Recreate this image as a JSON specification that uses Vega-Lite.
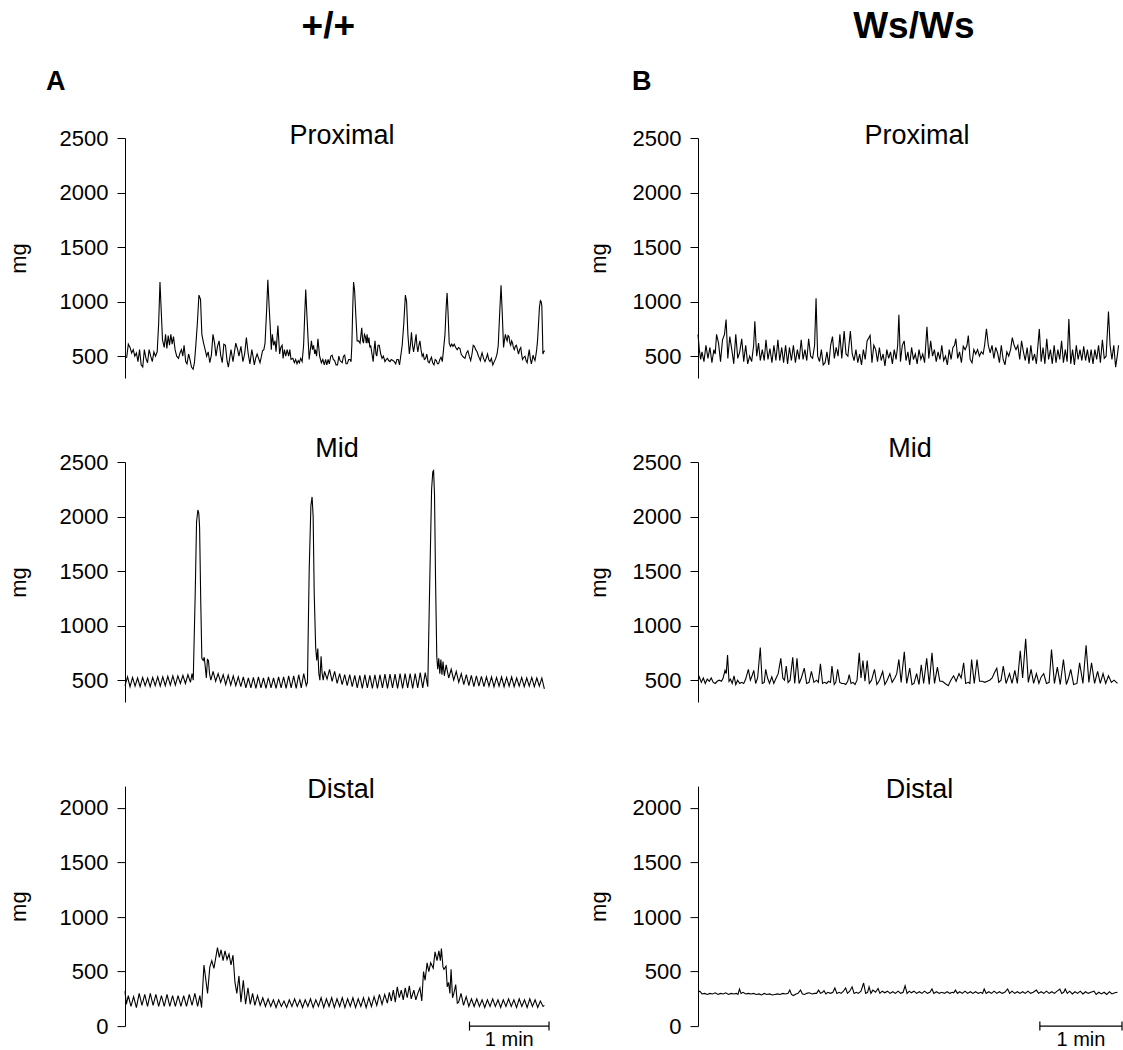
{
  "$schema": "https://vega.github.io/schema/vega-lite/v6.json",
  "padding": {"left": 7, "top": 7, "right": 0, "bottom": 0},
  "background": "white",
  "config": {
    "font": "Liberation Sans",
    "view": {"stroke": null},
    "title": {"font": "Liberation Sans", "fontSize": 27, "fontWeight": "normal", "color": "black", "anchor": "middle"},
    "axis": {"domainColor": "black", "tickColor": "black", "labelColor": "black", "titleColor": "black", "labelFont": "Liberation Sans", "titleFont": "Liberation Sans", "labelFontSize": 22, "titleFontSize": 22, "titleFontWeight": "normal", "tickSize": 8, "labelPadding": 9, "grid": false, "domainWidth": 1, "tickWidth": 1}
  },
  "datasets": {
    "A1": [{"t":0,"v":480},{"t":1.3,"v":490},{"t":2.5,"v":610},{"t":3.8,"v":580},{"t":5,"v":530},{"t":6.2,"v":560},{"t":7.4,"v":500},{"t":8.6,"v":530},{"t":9.8,"v":450},{"t":11,"v":560},{"t":12.2,"v":420},{"t":13.4,"v":400},{"t":14.6,"v":560},{"t":15.8,"v":480},{"t":17,"v":440},{"t":18.2,"v":560},{"t":19.4,"v":500},{"t":20.6,"v":450},{"t":21.8,"v":540},{"t":23,"v":500},{"t":24.3,"v":540},{"t":25.4,"v":800},{"t":26.4,"v":1180},{"t":27.4,"v":900},{"t":28.3,"v":650},{"t":29.6,"v":580},{"t":30.6,"v":700},{"t":31.6,"v":570},{"t":32.6,"v":690},{"t":33.6,"v":600},{"t":34.6,"v":700},{"t":35.6,"v":610},{"t":36.6,"v":680},{"t":37.8,"v":560},{"t":39,"v":500},{"t":40.4,"v":480},{"t":41.5,"v":530},{"t":42.6,"v":560},{"t":43.6,"v":500},{"t":44.6,"v":600},{"t":45.8,"v":450},{"t":46.8,"v":430},{"t":48,"v":520},{"t":49,"v":470},{"t":50.2,"v":400},{"t":51.4,"v":380},{"t":52.4,"v":440},{"t":53.4,"v":590},{"t":54.6,"v":800},{"t":55.8,"v":1060},{"t":57,"v":1020},{"t":58,"v":700},{"t":59.3,"v":620},{"t":60.5,"v":560},{"t":61.6,"v":500},{"t":62.8,"v":540},{"t":64,"v":440},{"t":65.2,"v":510},{"t":66.4,"v":700},{"t":67.6,"v":620},{"t":68.7,"v":500},{"t":69.8,"v":590},{"t":71,"v":640},{"t":72.2,"v":510},{"t":73.4,"v":440},{"t":74.6,"v":610},{"t":75.8,"v":600},{"t":77,"v":460},{"t":78,"v":400},{"t":79,"v":480},{"t":80,"v":560},{"t":81.5,"v":450},{"t":83.6,"v":620},{"t":85,"v":560},{"t":86,"v":500},{"t":87.5,"v":590},{"t":89,"v":450},{"t":90.3,"v":520},{"t":91.6,"v":670},{"t":93,"v":520},{"t":94.3,"v":430},{"t":95.7,"v":560},{"t":96.6,"v":500},{"t":97.6,"v":420},{"t":98.6,"v":480},{"t":99.7,"v":520},{"t":100.8,"v":480},{"t":101.9,"v":440},{"t":103,"v":500},{"t":103.8,"v":550},{"t":104.8,"v":560},{"t":105.7,"v":620},{"t":106.8,"v":900},{"t":107.8,"v":1200},{"t":108.8,"v":950},{"t":109.7,"v":750},{"t":110.4,"v":560},{"t":111.2,"v":700},{"t":112.2,"v":600},{"t":113.2,"v":640},{"t":114,"v":540},{"t":115.4,"v":780},{"t":116.7,"v":520},{"t":117.6,"v":580},{"t":118.6,"v":600},{"t":119.3,"v":480},{"t":120.3,"v":560},{"t":121.3,"v":500},{"t":122.4,"v":560},{"t":123.5,"v":500},{"t":124.4,"v":560},{"t":125.3,"v":470},{"t":126.7,"v":480},{"t":127.8,"v":440},{"t":128.8,"v":470},{"t":129.8,"v":430},{"t":130.7,"v":460},{"t":131.6,"v":440},{"t":132.6,"v":480},{"t":133.7,"v":450},{"t":134.8,"v":600},{"t":135.7,"v":900},{"t":136.4,"v":1110},{"t":137.2,"v":900},{"t":138,"v":700},{"t":139,"v":470},{"t":140.7,"v":640},{"t":141.5,"v":560},{"t":142.3,"v":600},{"t":143.2,"v":520},{"t":143.7,"v":560},{"t":144.6,"v":500},{"t":145.6,"v":660},{"t":146.9,"v":500},{"t":148.2,"v":440},{"t":149.3,"v":470},{"t":150.4,"v":420},{"t":151.4,"v":470},{"t":152.3,"v":420},{"t":153.3,"v":470},{"t":154.2,"v":430},{"t":155.3,"v":500},{"t":156.3,"v":510},{"t":157.2,"v":470},{"t":158.2,"v":460},{"t":159.3,"v":420},{"t":160.4,"v":420},{"t":161.4,"v":500},{"t":162.3,"v":460},{"t":163.1,"v":450},{"t":163.9,"v":440},{"t":164.9,"v":500},{"t":165.8,"v":510},{"t":166.8,"v":430},{"t":167.7,"v":430},{"t":168.8,"v":470},{"t":169.8,"v":470},{"t":170.6,"v":450},{"t":171.2,"v":600},{"t":171.9,"v":950},{"t":172.5,"v":1180},{"t":173.3,"v":1100},{"t":174.1,"v":900},{"t":175.2,"v":640},{"t":176.3,"v":640},{"t":177.4,"v":620},{"t":178.1,"v":700},{"t":178.7,"v":760},{"t":179.4,"v":640},{"t":180,"v":620},{"t":180.7,"v":700},{"t":181.4,"v":680},{"t":182.1,"v":620},{"t":182.7,"v":700},{"t":183.4,"v":620},{"t":184.1,"v":670},{"t":184.8,"v":580},{"t":185.4,"v":600},{"t":186.4,"v":520},{"t":187.3,"v":450},{"t":188,"v":560},{"t":188.7,"v":640},{"t":189.4,"v":520},{"t":190,"v":500},{"t":191,"v":600},{"t":191.9,"v":600},{"t":193,"v":520},{"t":194,"v":480},{"t":195,"v":500},{"t":196.2,"v":450},{"t":197.2,"v":470},{"t":198.1,"v":480},{"t":199,"v":460},{"t":200,"v":450},{"t":201,"v":470},{"t":202.2,"v":460},{"t":203.2,"v":450},{"t":204.3,"v":430},{"t":205.2,"v":470},{"t":206.2,"v":470},{"t":207.2,"v":420},{"t":208.1,"v":500},{"t":209.2,"v":600},{"t":210.4,"v":800},{"t":211.6,"v":1060},{"t":212.5,"v":1000},{"t":213.5,"v":700},{"t":214.6,"v":520},{"t":215.4,"v":600},{"t":216.2,"v":720},{"t":217,"v":600},{"t":217.8,"v":540},{"t":218.8,"v":620},{"t":219.7,"v":700},{"t":220.3,"v":600},{"t":221,"v":540},{"t":221.8,"v":600},{"t":222.6,"v":640},{"t":223.4,"v":560},{"t":224.3,"v":500},{"t":225.1,"v":520},{"t":225.9,"v":470},{"t":226.9,"v":480},{"t":227.8,"v":520},{"t":228.7,"v":450},{"t":229.6,"v":440},{"t":230.5,"v":470},{"t":231.3,"v":490},{"t":232.2,"v":440},{"t":233.2,"v":420},{"t":234.1,"v":470},{"t":235,"v":460},{"t":235.8,"v":430},{"t":236.7,"v":430},{"t":237.6,"v":470},{"t":238.5,"v":490},{"t":239.5,"v":450},{"t":240.4,"v":560},{"t":241.5,"v":700},{"t":242.4,"v":950},{"t":243.1,"v":1080},{"t":243.8,"v":900},{"t":244.7,"v":620},{"t":245.6,"v":590},{"t":246.6,"v":610},{"t":247.5,"v":590},{"t":248.5,"v":610},{"t":249.6,"v":580},{"t":250.7,"v":560},{"t":251.7,"v":580},{"t":252.8,"v":570},{"t":253.7,"v":520},{"t":254.7,"v":500},{"t":255.6,"v":490},{"t":256.6,"v":480},{"t":257.7,"v":530},{"t":258.8,"v":550},{"t":259.8,"v":500},{"t":260.9,"v":460},{"t":261.9,"v":520},{"t":262.8,"v":600},{"t":263.7,"v":590},{"t":264.7,"v":560},{"t":265.7,"v":540},{"t":266.8,"v":500},{"t":267.5,"v":480},{"t":268.2,"v":460},{"t":268.8,"v":500},{"t":269.5,"v":530},{"t":270.6,"v":480},{"t":271.7,"v":450},{"t":272.6,"v":480},{"t":273.6,"v":520},{"t":274.5,"v":470},{"t":275.5,"v":450},{"t":276.5,"v":480},{"t":277.6,"v":420},{"t":278.7,"v":450},{"t":279.8,"v":480},{"t":280.8,"v":520},{"t":281.7,"v":600},{"t":282.8,"v":900},{"t":283.8,"v":1150},{"t":284.7,"v":900},{"t":285.7,"v":580},{"t":286.4,"v":650},{"t":287.1,"v":700},{"t":287.8,"v":660},{"t":288.4,"v":640},{"t":289.1,"v":690},{"t":289.8,"v":680},{"t":290.5,"v":620},{"t":291.1,"v":600},{"t":291.8,"v":640},{"t":292.5,"v":620},{"t":293.1,"v":580},{"t":293.8,"v":560},{"t":294.6,"v":590},{"t":295.4,"v":600},{"t":296.2,"v":560},{"t":297,"v":520},{"t":297.8,"v":560},{"t":298.7,"v":580},{"t":299.3,"v":520},{"t":300,"v":470},{"t":301,"v":490},{"t":301.9,"v":500},{"t":302.7,"v":460},{"t":303.5,"v":440},{"t":304.3,"v":500},{"t":305.1,"v":560},{"t":305.9,"v":480},{"t":306.7,"v":430},{"t":307.4,"v":470},{"t":308,"v":510},{"t":308.7,"v":480},{"t":309.4,"v":460},{"t":310,"v":500},{"t":310.7,"v":560},{"t":311.4,"v":650},{"t":312.1,"v":800},{"t":312.8,"v":950},{"t":313.5,"v":1010},{"t":314.1,"v":1000},{"t":314.6,"v":960},{"t":315.1,"v":700},{"t":315.4,"v":520},{"t":316,"v":540},{"t":316.7,"v":550}],
    "B1": [{"t":0,"v":700},{"t":1,"v":560},{"t":2,"v":470},{"t":3,"v":540},{"t":4.5,"v":450},{"t":6,"v":600},{"t":7.5,"v":480},{"t":9,"v":580},{"t":10.5,"v":440},{"t":12,"v":560},{"t":13,"v":520},{"t":14,"v":700},{"t":15.5,"v":620},{"t":17,"v":450},{"t":18.5,"v":650},{"t":20,"v":700},{"t":21.2,"v":836},{"t":22.5,"v":480},{"t":24,"v":680},{"t":25.5,"v":560},{"t":27,"v":430},{"t":28.5,"v":700},{"t":30,"v":480},{"t":31.5,"v":540},{"t":33,"v":660},{"t":34.5,"v":450},{"t":36,"v":600},{"t":37.5,"v":430},{"t":39,"v":500},{"t":40.5,"v":450},{"t":42,"v":600},{"t":42.9,"v":820},{"t":44.3,"v":500},{"t":45.7,"v":620},{"t":47,"v":460},{"t":48.5,"v":560},{"t":50,"v":460},{"t":51.3,"v":650},{"t":52.8,"v":470},{"t":54.3,"v":570},{"t":55.8,"v":440},{"t":57.3,"v":600},{"t":58.8,"v":460},{"t":60.3,"v":650},{"t":61.7,"v":460},{"t":63.2,"v":580},{"t":64.6,"v":440},{"t":66.1,"v":600},{"t":67.6,"v":430},{"t":69,"v":580},{"t":70.5,"v":460},{"t":72,"v":600},{"t":73.5,"v":440},{"t":75,"v":560},{"t":76.4,"v":470},{"t":77.9,"v":650},{"t":79.3,"v":470},{"t":80.7,"v":560},{"t":82.1,"v":460},{"t":83.5,"v":660},{"t":85,"v":500},{"t":86.5,"v":480},{"t":88,"v":600},{"t":89.1,"v":1030},{"t":90.3,"v":500},{"t":91.7,"v":450},{"t":93.1,"v":560},{"t":94.5,"v":420},{"t":95.9,"v":440},{"t":97.3,"v":540},{"t":98.7,"v":420},{"t":100.1,"v":600},{"t":101.5,"v":680},{"t":102.9,"v":480},{"t":104.3,"v":580},{"t":105.7,"v":500},{"t":107.1,"v":700},{"t":108.5,"v":480},{"t":110.3,"v":730},{"t":111.7,"v":520},{"t":113.1,"v":500},{"t":115,"v":730},{"t":116.4,"v":520},{"t":117.8,"v":460},{"t":119.2,"v":560},{"t":120.6,"v":440},{"t":122,"v":520},{"t":123.4,"v":420},{"t":124.8,"v":560},{"t":126.2,"v":470},{"t":127.6,"v":640},{"t":129.9,"v":690},{"t":131.3,"v":440},{"t":132.7,"v":600},{"t":134.1,"v":560},{"t":135.5,"v":450},{"t":136.9,"v":580},{"t":138.3,"v":460},{"t":139.7,"v":520},{"t":141.1,"v":410},{"t":142.5,"v":560},{"t":143.9,"v":480},{"t":145.3,"v":540},{"t":146.7,"v":430},{"t":148.1,"v":560},{"t":149.5,"v":470},{"t":150.7,"v":600},{"t":151.6,"v":880},{"t":152.8,"v":450},{"t":154.2,"v":600},{"t":155.6,"v":640},{"t":157,"v":460},{"t":158.4,"v":540},{"t":159.8,"v":420},{"t":161.2,"v":580},{"t":162.6,"v":470},{"t":164,"v":520},{"t":165.4,"v":430},{"t":166.8,"v":560},{"t":168.2,"v":470},{"t":169.6,"v":520},{"t":171,"v":440},{"t":172.8,"v":770},{"t":174.2,"v":480},{"t":175.6,"v":640},{"t":177,"v":500},{"t":178.4,"v":560},{"t":179.8,"v":450},{"t":181.2,"v":540},{"t":182.6,"v":470},{"t":184,"v":600},{"t":185.4,"v":460},{"t":186.8,"v":500},{"t":188.2,"v":420},{"t":189.6,"v":560},{"t":191,"v":470},{"t":192.4,"v":580},{"t":193.6,"v":600},{"t":194.6,"v":660},{"t":196,"v":480},{"t":197.4,"v":540},{"t":198.8,"v":440},{"t":200.2,"v":590},{"t":201.6,"v":560},{"t":203,"v":600},{"t":204,"v":690},{"t":205.4,"v":470},{"t":206.8,"v":440},{"t":208.2,"v":560},{"t":209.6,"v":520},{"t":211,"v":560},{"t":212.4,"v":500},{"t":213.8,"v":540},{"t":215.2,"v":520},{"t":216.3,"v":600},{"t":217.7,"v":750},{"t":219.1,"v":600},{"t":220.5,"v":530},{"t":221.9,"v":600},{"t":223.3,"v":480},{"t":224.7,"v":580},{"t":226.1,"v":530},{"t":227.5,"v":440},{"t":228.9,"v":600},{"t":230.3,"v":470},{"t":231.7,"v":420},{"t":233.1,"v":540},{"t":234.5,"v":500},{"t":235.9,"v":560},{"t":237.2,"v":670},{"t":238.6,"v":600},{"t":240,"v":560},{"t":241.4,"v":600},{"t":242.8,"v":470},{"t":244.2,"v":640},{"t":245.6,"v":540},{"t":247,"v":460},{"t":248.4,"v":580},{"t":249.8,"v":430},{"t":251.2,"v":600},{"t":252.6,"v":460},{"t":254,"v":520},{"t":255.4,"v":430},{"t":257.6,"v":750},{"t":259,"v":450},{"t":260.4,"v":580},{"t":261.8,"v":430},{"t":263.2,"v":660},{"t":264.6,"v":470},{"t":266,"v":560},{"t":267.4,"v":430},{"t":268.8,"v":600},{"t":270.2,"v":440},{"t":271.6,"v":560},{"t":273,"v":470},{"t":274.4,"v":640},{"t":275.8,"v":440},{"t":277.2,"v":560},{"t":278.6,"v":450},{"t":279.9,"v":840},{"t":281.3,"v":430},{"t":282.7,"v":560},{"t":284.1,"v":420},{"t":285.5,"v":600},{"t":286.9,"v":470},{"t":288.3,"v":560},{"t":289.7,"v":460},{"t":291.1,"v":590},{"t":292.5,"v":460},{"t":293.9,"v":560},{"t":295.3,"v":440},{"t":296.7,"v":560},{"t":298.1,"v":430},{"t":299.5,"v":560},{"t":300.9,"v":470},{"t":302.3,"v":600},{"t":303.7,"v":440},{"t":305.2,"v":650},{"t":306.6,"v":480},{"t":308,"v":500},{"t":309.8,"v":910},{"t":311,"v":600},{"t":312.4,"v":470},{"t":313.8,"v":600},{"t":315.2,"v":400},{"t":316.4,"v":500},{"t":317.4,"v":600}],
    "A2": [{"t":0,"v":450},{"t":1.9,"v":530},{"t":3.8,"v":440},{"t":5.7,"v":525},{"t":7.6,"v":445},{"t":9.5,"v":520},{"t":11.4,"v":440},{"t":13.3,"v":525},{"t":15.2,"v":450},{"t":17.1,"v":520},{"t":19,"v":440},{"t":20.9,"v":525},{"t":22.8,"v":450},{"t":24.7,"v":530},{"t":26.6,"v":445},{"t":28.5,"v":530},{"t":30.4,"v":450},{"t":32.3,"v":535},{"t":34.2,"v":455},{"t":36.1,"v":540},{"t":38,"v":455},{"t":39.9,"v":540},{"t":41.8,"v":470},{"t":43.7,"v":545},{"t":45.6,"v":470},{"t":47.5,"v":550},{"t":49.4,"v":480},{"t":50.6,"v":560},{"t":51.5,"v":500},{"t":53,"v":1300},{"t":54,"v":1950},{"t":55,"v":2060},{"t":55.7,"v":2030},{"t":56.3,"v":1900},{"t":57.2,"v":1200},{"t":58,"v":700},{"t":59,"v":680},{"t":59.8,"v":710},{"t":60.6,"v":620},{"t":61.4,"v":520},{"t":62.2,"v":690},{"t":63,"v":680},{"t":63.8,"v":560},{"t":64.8,"v":500},{"t":66.5,"v":580},{"t":68.4,"v":490},{"t":70.3,"v":560},{"t":72.2,"v":480},{"t":74.1,"v":550},{"t":76,"v":460},{"t":77.9,"v":545},{"t":79.8,"v":455},{"t":81.7,"v":540},{"t":83.6,"v":450},{"t":85.5,"v":530},{"t":87.4,"v":440},{"t":89.3,"v":530},{"t":91.2,"v":430},{"t":93.1,"v":520},{"t":95,"v":430},{"t":96.9,"v":525},{"t":98.8,"v":425},{"t":100.7,"v":530},{"t":102.6,"v":430},{"t":104.5,"v":520},{"t":106.4,"v":425},{"t":108.3,"v":530},{"t":110.2,"v":430},{"t":112.1,"v":520},{"t":114,"v":425},{"t":115.9,"v":530},{"t":117.8,"v":430},{"t":119.7,"v":530},{"t":121.6,"v":425},{"t":123.5,"v":540},{"t":125.4,"v":430},{"t":127.3,"v":540},{"t":129.2,"v":425},{"t":131.1,"v":550},{"t":133,"v":430},{"t":134.9,"v":560},{"t":136.8,"v":450},{"t":137.7,"v":480},{"t":139,"v":1500},{"t":140.3,"v":2100},{"t":141.2,"v":2180},{"t":142,"v":2000},{"t":142.8,"v":1300},{"t":143.9,"v":800},{"t":144.7,"v":680},{"t":145.5,"v":790},{"t":146.3,"v":560},{"t":147.1,"v":500},{"t":148,"v":720},{"t":148.8,"v":560},{"t":149.6,"v":500},{"t":150.6,"v":580},{"t":152.5,"v":510},{"t":154.4,"v":600},{"t":156.3,"v":490},{"t":158.2,"v":580},{"t":160.1,"v":470},{"t":162,"v":560},{"t":163.9,"v":460},{"t":165.8,"v":550},{"t":167.7,"v":450},{"t":169.6,"v":550},{"t":171.5,"v":440},{"t":173.4,"v":545},{"t":175.3,"v":430},{"t":177.2,"v":545},{"t":179.1,"v":425},{"t":181,"v":550},{"t":182.9,"v":430},{"t":184.8,"v":545},{"t":186.7,"v":425},{"t":188.6,"v":550},{"t":190.5,"v":425},{"t":192.4,"v":550},{"t":194.3,"v":430},{"t":196.2,"v":555},{"t":198.1,"v":425},{"t":200,"v":555},{"t":201.9,"v":430},{"t":203.8,"v":555},{"t":205.7,"v":425},{"t":207.6,"v":560},{"t":209.5,"v":425},{"t":211.4,"v":560},{"t":213.3,"v":430},{"t":215.2,"v":560},{"t":217.1,"v":425},{"t":219,"v":560},{"t":220.9,"v":430},{"t":222.8,"v":570},{"t":224.7,"v":430},{"t":226.6,"v":570},{"t":228.5,"v":440},{"t":230,"v":1400},{"t":231.4,"v":2250},{"t":232.3,"v":2410},{"t":232.9,"v":2420},{"t":233.6,"v":2200},{"t":234.4,"v":1400},{"t":235.3,"v":720},{"t":236,"v":600},{"t":236.8,"v":700},{"t":237.6,"v":560},{"t":238.4,"v":690},{"t":239.2,"v":550},{"t":240,"v":670},{"t":241,"v":540},{"t":242.4,"v":640},{"t":244.3,"v":520},{"t":246.2,"v":600},{"t":248.1,"v":500},{"t":250,"v":580},{"t":251.9,"v":480},{"t":253.8,"v":560},{"t":255.7,"v":460},{"t":257.6,"v":550},{"t":259.5,"v":450},{"t":261.4,"v":545},{"t":263.3,"v":440},{"t":265.2,"v":540},{"t":267.1,"v":445},{"t":269,"v":535},{"t":270.9,"v":440},{"t":272.8,"v":530},{"t":274.7,"v":445},{"t":276.6,"v":530},{"t":278.5,"v":440},{"t":280.4,"v":525},{"t":282.3,"v":445},{"t":284.2,"v":530},{"t":286.1,"v":440},{"t":288,"v":525},{"t":289.9,"v":445},{"t":291.8,"v":530},{"t":293.7,"v":440},{"t":295.6,"v":520},{"t":297.5,"v":445},{"t":299.4,"v":525},{"t":301.3,"v":440},{"t":303.2,"v":520},{"t":305.1,"v":445},{"t":307,"v":525},{"t":308.9,"v":440},{"t":310.8,"v":520},{"t":312.7,"v":445},{"t":314.6,"v":520},{"t":316.5,"v":420}],
    "B2": [{"t":0,"v":490},{"t":1,"v":530},{"t":2.5,"v":480},{"t":4,"v":520},{"t":5.5,"v":470},{"t":7,"v":510},{"t":8.5,"v":490},{"t":10,"v":520},{"t":11.5,"v":480},{"t":13,"v":470},{"t":14.5,"v":490},{"t":16,"v":500},{"t":17.7,"v":490},{"t":19,"v":520},{"t":20.4,"v":590},{"t":21.3,"v":560},{"t":22.3,"v":730},{"t":23.4,"v":490},{"t":24.5,"v":510},{"t":25.8,"v":470},{"t":27.2,"v":540},{"t":28.5,"v":460},{"t":29.9,"v":500},{"t":31.5,"v":470},{"t":33,"v":480},{"t":34.5,"v":470},{"t":36,"v":510},{"t":38,"v":600},{"t":39.5,"v":500},{"t":40.8,"v":540},{"t":42.1,"v":590},{"t":43.5,"v":470},{"t":45,"v":520},{"t":47,"v":800},{"t":48.5,"v":470},{"t":50,"v":480},{"t":51.1,"v":600},{"t":52.5,"v":520},{"t":54,"v":470},{"t":55.7,"v":530},{"t":57.2,"v":470},{"t":59,"v":520},{"t":60.5,"v":560},{"t":62.5,"v":700},{"t":64,"v":520},{"t":65.3,"v":500},{"t":66.6,"v":630},{"t":68,"v":480},{"t":69.5,"v":500},{"t":71.5,"v":710},{"t":73,"v":470},{"t":74.7,"v":700},{"t":76.3,"v":470},{"t":78,"v":520},{"t":80.2,"v":610},{"t":82,"v":470},{"t":83.8,"v":480},{"t":85.6,"v":580},{"t":87.5,"v":480},{"t":89.5,"v":500},{"t":90.8,"v":480},{"t":92.4,"v":650},{"t":94,"v":470},{"t":95.5,"v":480},{"t":97,"v":470},{"t":98.5,"v":490},{"t":100,"v":480},{"t":101.1,"v":630},{"t":102.8,"v":460},{"t":104,"v":480},{"t":105.4,"v":600},{"t":107,"v":480},{"t":108.5,"v":470},{"t":110,"v":470},{"t":111.5,"v":460},{"t":113,"v":490},{"t":114.1,"v":550},{"t":115.5,"v":470},{"t":117,"v":480},{"t":118.5,"v":460},{"t":120,"v":500},{"t":121.7,"v":750},{"t":123,"v":520},{"t":124.5,"v":680},{"t":126,"v":490},{"t":127.7,"v":680},{"t":129.3,"v":470},{"t":131,"v":500},{"t":133.2,"v":600},{"t":135,"v":460},{"t":137,"v":500},{"t":139.4,"v":580},{"t":141,"v":460},{"t":142.8,"v":500},{"t":144.8,"v":560},{"t":146.5,"v":480},{"t":148.5,"v":520},{"t":150,"v":560},{"t":151.6,"v":690},{"t":153.3,"v":480},{"t":155.7,"v":760},{"t":157.5,"v":470},{"t":159.8,"v":610},{"t":161.5,"v":460},{"t":163,"v":470},{"t":165,"v":560},{"t":166.8,"v":460},{"t":168.5,"v":640},{"t":170.3,"v":470},{"t":172.6,"v":700},{"t":174.5,"v":460},{"t":176.6,"v":750},{"t":178.5,"v":470},{"t":180.7,"v":620},{"t":182.5,"v":490},{"t":184.5,"v":490},{"t":186.5,"v":470},{"t":188.9,"v":450},{"t":190.8,"v":500},{"t":192.9,"v":540},{"t":194.8,"v":490},{"t":197,"v":560},{"t":198.6,"v":520},{"t":200.5,"v":660},{"t":202,"v":470},{"t":204,"v":480},{"t":205.2,"v":470},{"t":206.5,"v":690},{"t":208.5,"v":470},{"t":210.6,"v":690},{"t":212.5,"v":490},{"t":214.5,"v":490},{"t":216.5,"v":480},{"t":218.3,"v":490},{"t":220.1,"v":500},{"t":222,"v":520},{"t":223.8,"v":570},{"t":225.5,"v":610},{"t":227,"v":480},{"t":228.7,"v":500},{"t":230.4,"v":630},{"t":232.5,"v":470},{"t":235.1,"v":560},{"t":237,"v":470},{"t":239.1,"v":590},{"t":241,"v":470},{"t":243.2,"v":770},{"t":245,"v":520},{"t":247.3,"v":880},{"t":249.3,"v":480},{"t":251.4,"v":600},{"t":253.3,"v":470},{"t":255.4,"v":560},{"t":257.3,"v":470},{"t":259,"v":530},{"t":260.9,"v":560},{"t":263,"v":470},{"t":265,"v":480},{"t":266.8,"v":780},{"t":269,"v":470},{"t":271.2,"v":620},{"t":273.4,"v":460},{"t":275.8,"v":690},{"t":278,"v":460},{"t":279.7,"v":520},{"t":281.3,"v":600},{"t":283.5,"v":460},{"t":286,"v":470},{"t":288,"v":660},{"t":290.5,"v":470},{"t":292.9,"v":820},{"t":295,"v":480},{"t":297,"v":660},{"t":299.3,"v":470},{"t":301.6,"v":580},{"t":303.6,"v":470},{"t":305.7,"v":560},{"t":307.7,"v":470},{"t":309.8,"v":540},{"t":312,"v":480},{"t":314,"v":500},{"t":316.6,"v":470}],
    "A3": [{"t":0,"v":320},{"t":1,"v":200},{"t":2.5,"v":280},{"t":4.5,"v":180},{"t":6.5,"v":270},{"t":8.6,"v":170},{"t":10.7,"v":300},{"t":12.8,"v":190},{"t":14.9,"v":290},{"t":17,"v":180},{"t":19.1,"v":300},{"t":21.2,"v":190},{"t":23.3,"v":290},{"t":25.4,"v":180},{"t":27.5,"v":280},{"t":29.6,"v":180},{"t":31.7,"v":290},{"t":33.8,"v":180},{"t":35.9,"v":280},{"t":38,"v":180},{"t":40.1,"v":280},{"t":42.2,"v":180},{"t":44.3,"v":280},{"t":46.4,"v":180},{"t":48.5,"v":290},{"t":50.6,"v":190},{"t":52.7,"v":300},{"t":54.8,"v":180},{"t":56.5,"v":280},{"t":57.8,"v":170},{"t":59.6,"v":560},{"t":62.3,"v":300},{"t":64,"v":540},{"t":65.5,"v":600},{"t":67.1,"v":530},{"t":69.8,"v":720},{"t":71.2,"v":630},{"t":72.5,"v":700},{"t":74,"v":600},{"t":75.5,"v":690},{"t":77,"v":610},{"t":78.5,"v":660},{"t":80,"v":560},{"t":81.5,"v":650},{"t":83,"v":400},{"t":84.4,"v":300},{"t":86,"v":460},{"t":87.5,"v":220},{"t":89.3,"v":420},{"t":91,"v":200},{"t":92.8,"v":350},{"t":94.5,"v":200},{"t":96.3,"v":300},{"t":98,"v":190},{"t":100,"v":280},{"t":102,"v":190},{"t":104,"v":260},{"t":106,"v":180},{"t":108,"v":250},{"t":110,"v":180},{"t":112,"v":240},{"t":114,"v":170},{"t":116,"v":240},{"t":118,"v":180},{"t":120,"v":230},{"t":122,"v":170},{"t":124,"v":240},{"t":126,"v":180},{"t":128,"v":250},{"t":130,"v":180},{"t":132,"v":240},{"t":134,"v":170},{"t":136,"v":240},{"t":138,"v":180},{"t":140,"v":250},{"t":142,"v":170},{"t":144,"v":240},{"t":146,"v":180},{"t":148,"v":260},{"t":150,"v":170},{"t":152,"v":250},{"t":154,"v":180},{"t":156,"v":260},{"t":158,"v":170},{"t":160,"v":250},{"t":162,"v":180},{"t":164,"v":260},{"t":166,"v":170},{"t":168,"v":250},{"t":170,"v":180},{"t":172,"v":260},{"t":174,"v":170},{"t":176,"v":250},{"t":178,"v":180},{"t":180,"v":260},{"t":182,"v":170},{"t":184,"v":260},{"t":186,"v":180},{"t":188,"v":270},{"t":190,"v":190},{"t":192,"v":290},{"t":194,"v":200},{"t":196,"v":290},{"t":198,"v":210},{"t":199.5,"v":310},{"t":201,"v":230},{"t":202.5,"v":330},{"t":204,"v":220},{"t":205.5,"v":360},{"t":207,"v":260},{"t":208.5,"v":330},{"t":210,"v":240},{"t":211.5,"v":350},{"t":213,"v":260},{"t":214.6,"v":370},{"t":216,"v":250},{"t":218,"v":330},{"t":219.5,"v":240},{"t":221,"v":300},{"t":222.6,"v":350},{"t":224,"v":230},{"t":225.3,"v":500},{"t":226.5,"v":420},{"t":228,"v":580},{"t":229.3,"v":500},{"t":230.7,"v":580},{"t":232.6,"v":530},{"t":234,"v":680},{"t":235.5,"v":600},{"t":236.9,"v":690},{"t":238,"v":600},{"t":238.8,"v":710},{"t":240,"v":540},{"t":240.7,"v":520},{"t":242.3,"v":550},{"t":243.2,"v":360},{"t":244.2,"v":400},{"t":245.2,"v":300},{"t":246.1,"v":520},{"t":247.2,"v":260},{"t":248.2,"v":300},{"t":249.6,"v":380},{"t":250.8,"v":210},{"t":251.8,"v":220},{"t":253.6,"v":300},{"t":255.5,"v":190},{"t":257.5,"v":270},{"t":259.5,"v":180},{"t":261.5,"v":250},{"t":263.5,"v":180},{"t":265.5,"v":250},{"t":267.5,"v":180},{"t":269.5,"v":240},{"t":271.5,"v":170},{"t":273.5,"v":240},{"t":275.5,"v":180},{"t":277.5,"v":250},{"t":279.5,"v":180},{"t":281.5,"v":240},{"t":283.5,"v":170},{"t":285.5,"v":240},{"t":287.5,"v":180},{"t":289.5,"v":250},{"t":291.5,"v":180},{"t":293.5,"v":240},{"t":295.5,"v":170},{"t":297.5,"v":250},{"t":299.5,"v":180},{"t":301.5,"v":240},{"t":303.5,"v":170},{"t":305.5,"v":250},{"t":307.5,"v":180},{"t":309.5,"v":240},{"t":311.5,"v":170},{"t":313.5,"v":230},{"t":315.5,"v":180},{"t":316.5,"v":190}],
    "B3": [{"t":0,"v":310},{"t":1.4,"v":320},{"t":3,"v":295},{"t":5,"v":300},{"t":7,"v":290},{"t":9,"v":300},{"t":11,"v":295},{"t":13,"v":305},{"t":15,"v":290},{"t":17,"v":300},{"t":19,"v":295},{"t":21,"v":305},{"t":23,"v":290},{"t":25,"v":300},{"t":27,"v":295},{"t":29,"v":300},{"t":30.2,"v":290},{"t":31.3,"v":340},{"t":32.5,"v":300},{"t":34,"v":310},{"t":36,"v":295},{"t":38,"v":300},{"t":40,"v":295},{"t":42,"v":300},{"t":44,"v":290},{"t":46,"v":295},{"t":48,"v":285},{"t":50,"v":300},{"t":52,"v":290},{"t":54,"v":295},{"t":56,"v":285},{"t":58,"v":290},{"t":60,"v":295},{"t":62,"v":290},{"t":64,"v":300},{"t":66,"v":295},{"t":68,"v":300},{"t":69.3,"v":330},{"t":70.5,"v":290},{"t":72,"v":280},{"t":74,"v":295},{"t":75.5,"v":300},{"t":77.4,"v":330},{"t":78.8,"v":295},{"t":80.5,"v":290},{"t":82,"v":300},{"t":84,"v":305},{"t":86,"v":295},{"t":88,"v":300},{"t":89.5,"v":300},{"t":91,"v":330},{"t":92.5,"v":300},{"t":94,"v":310},{"t":95.1,"v":325},{"t":96.5,"v":295},{"t":98,"v":310},{"t":100,"v":300},{"t":101.8,"v":310},{"t":103.3,"v":350},{"t":104.8,"v":300},{"t":106.5,"v":310},{"t":108,"v":300},{"t":109.8,"v":320},{"t":111.4,"v":350},{"t":112.8,"v":300},{"t":114.5,"v":320},{"t":116.3,"v":360},{"t":117.8,"v":300},{"t":119.5,"v":310},{"t":121,"v":300},{"t":123,"v":320},{"t":125,"v":395},{"t":126.5,"v":300},{"t":128,"v":310},{"t":129.1,"v":360},{"t":130.5,"v":300},{"t":132,"v":330},{"t":134,"v":310},{"t":135.9,"v":345},{"t":137.3,"v":300},{"t":139,"v":320},{"t":141,"v":305},{"t":143,"v":320},{"t":145,"v":300},{"t":147,"v":315},{"t":149,"v":300},{"t":151,"v":320},{"t":153,"v":300},{"t":154.8,"v":310},{"t":156.3,"v":370},{"t":157.8,"v":300},{"t":159.5,"v":320},{"t":161,"v":305},{"t":163,"v":320},{"t":165,"v":300},{"t":167,"v":315},{"t":169,"v":300},{"t":171,"v":320},{"t":173,"v":300},{"t":175,"v":310},{"t":176.6,"v":340},{"t":178,"v":300},{"t":180,"v":315},{"t":182,"v":300},{"t":184,"v":310},{"t":186,"v":300},{"t":188,"v":315},{"t":190,"v":300},{"t":192,"v":310},{"t":193,"v":305},{"t":194.3,"v":330},{"t":195.8,"v":300},{"t":197.5,"v":315},{"t":199.5,"v":300},{"t":201.5,"v":320},{"t":203.5,"v":300},{"t":205.5,"v":315},{"t":207.5,"v":300},{"t":209.5,"v":315},{"t":211.5,"v":300},{"t":213.5,"v":310},{"t":214.8,"v":300},{"t":216,"v":340},{"t":217.5,"v":300},{"t":219.5,"v":315},{"t":221.5,"v":300},{"t":223.5,"v":320},{"t":225.5,"v":300},{"t":227.5,"v":315},{"t":229.5,"v":300},{"t":231.5,"v":310},{"t":233.7,"v":340},{"t":235.2,"v":300},{"t":237,"v":320},{"t":239,"v":300},{"t":241,"v":315},{"t":243,"v":300},{"t":245,"v":315},{"t":247,"v":300},{"t":249,"v":320},{"t":251,"v":300},{"t":253,"v":310},{"t":255.4,"v":330},{"t":257,"v":300},{"t":259,"v":315},{"t":261,"v":300},{"t":263,"v":320},{"t":265,"v":300},{"t":267,"v":315},{"t":269,"v":300},{"t":271,"v":320},{"t":273.1,"v":340},{"t":274.5,"v":300},{"t":276,"v":310},{"t":277.2,"v":340},{"t":278.7,"v":300},{"t":280.5,"v":320},{"t":282.5,"v":295},{"t":284.5,"v":315},{"t":286.5,"v":300},{"t":288.5,"v":320},{"t":290.5,"v":295},{"t":292.5,"v":315},{"t":294.5,"v":300},{"t":296.5,"v":310},{"t":298.9,"v":320},{"t":300.5,"v":290},{"t":302.5,"v":310},{"t":304.5,"v":295},{"t":306.5,"v":310},{"t":308.5,"v":290},{"t":310.5,"v":315},{"t":312.5,"v":295},{"t":314.5,"v":305},{"t":316.6,"v":310}]
  },
  "hconcat": [
    {
      "title": {"text": "+/+", "fontSize": 37, "fontWeight": "bold", "anchor": "middle", "dx": 50, "offset": 22},
      "spacing": 57,
      "vconcat": [
        {
          "title": {"text": "A", "fontSize": 27, "fontWeight": "bold", "anchor": "start", "dx": 39, "offset": 25.7},
          "vconcat": [
            {
              "width": 424, "height": 240,
              "title": {"text": "Proximal", "offset": -22.5, "dx": 5},
              "data": {"name": "A1"},
              "mark": {"type": "line", "color": "black", "strokeWidth": 1.1},
              "encoding": {
                "x": {"field": "t", "type": "quantitative", "scale": {"domain": [0, 320], "nice": false}, "axis": null},
                "y": {"field": "v", "type": "quantitative", "scale": {"domain": [300, 2500], "nice": false, "zero": false}, "axis": {"title": "mg", "format": "d", "values": [500, 1000, 1500, 2000, 2500], "titlePadding": 29}}
              }
            }
          ]
        },
        {
          "spacing": 73.1,
          "vconcat": [
            {
              "width": 424, "height": 240,
              "title": {"text": "Mid", "offset": -12},
              "data": {"name": "A2"},
              "mark": {"type": "line", "color": "black", "strokeWidth": 1.1},
              "encoding": {
                "x": {"field": "t", "type": "quantitative", "scale": {"domain": [0, 320], "nice": false}, "axis": null},
                "y": {"field": "v", "type": "quantitative", "scale": {"domain": [300, 2500], "nice": false, "zero": false}, "axis": {"title": "mg", "format": "d", "values": [500, 1000, 1500, 2000, 2500], "titlePadding": 29}}
              }
            },
            {
              "width": 424, "height": 240,
              "title": {"text": "Distal", "offset": -17.5, "dx": 4},
              "layer": [
                {
                  "data": {"name": "A3"},
                  "mark": {"type": "line", "color": "black", "strokeWidth": 1.1},
                  "encoding": {
                    "x": {"field": "t", "type": "quantitative", "scale": {"domain": [0, 320], "nice": false}, "axis": null},
                    "y": {"field": "v", "type": "quantitative", "scale": {"domain": [0, 2200], "nice": false, "zero": false}, "axis": {"title": "mg", "format": "d", "values": [0, 500, 1000, 1500, 2000], "titlePadding": 29}}
                  }
                },
                {
                  "data": {"values": [{"start": 260, "end": 320, "mid": 290, "label": "1 min"}]},
                  "layer": [
                    {"mark": {"type": "rule", "color": "black", "strokeWidth": 1.2}, "encoding": {"x": {"field": "start", "type": "quantitative"}, "x2": {"field": "end"}, "y": {"datum": 0}}},
                    {"mark": {"type": "tick", "orient": "vertical", "size": 9, "thickness": 1.2, "color": "black", "opacity": 1}, "encoding": {"x": {"field": "start", "type": "quantitative"}, "y": {"datum": 0}}},
                    {"mark": {"type": "tick", "orient": "vertical", "size": 9, "thickness": 1.2, "color": "black", "opacity": 1}, "encoding": {"x": {"field": "end", "type": "quantitative"}, "y": {"datum": 0}}},
                    {"mark": {"type": "text", "baseline": "top", "dy": 4, "fontSize": 20, "font": "Liberation Sans", "color": "black"}, "encoding": {"x": {"field": "mid", "type": "quantitative"}, "y": {"datum": 0}, "text": {"field": "label"}}}
                  ]
                }
              ]
            }
          ]
        }
      ]
    },
    {
      "title": {"text": "Ws/Ws", "fontSize": 37, "fontWeight": "bold", "anchor": "middle", "dx": 59, "offset": 22},
      "spacing": 57,
      "vconcat": [
        {
          "title": {"text": "B", "fontSize": 27, "fontWeight": "bold", "anchor": "start", "dx": 45, "offset": 25.7},
          "vconcat": [
            {
              "width": 424, "height": 240,
              "title": {"text": "Proximal", "offset": -22.5, "dx": 7},
              "data": {"name": "B1"},
              "mark": {"type": "line", "color": "black", "strokeWidth": 1.1},
              "encoding": {
                "x": {"field": "t", "type": "quantitative", "scale": {"domain": [0, 320], "nice": false}, "axis": null},
                "y": {"field": "v", "type": "quantitative", "scale": {"domain": [300, 2500], "nice": false, "zero": false}, "axis": {"title": "mg", "format": "d", "values": [500, 1000, 1500, 2000, 2500], "titlePadding": 22}}
              }
            }
          ]
        },
        {
          "spacing": 73.1,
          "vconcat": [
            {
              "width": 424, "height": 240,
              "title": {"text": "Mid", "offset": -12},
              "data": {"name": "B2"},
              "mark": {"type": "line", "color": "black", "strokeWidth": 1.1},
              "encoding": {
                "x": {"field": "t", "type": "quantitative", "scale": {"domain": [0, 320], "nice": false}, "axis": null},
                "y": {"field": "v", "type": "quantitative", "scale": {"domain": [300, 2500], "nice": false, "zero": false}, "axis": {"title": "mg", "format": "d", "values": [500, 1000, 1500, 2000, 2500], "titlePadding": 22}}
              }
            },
            {
              "width": 424, "height": 240,
              "title": {"text": "Distal", "offset": -17.5, "dx": 9.5},
              "layer": [
                {
                  "data": {"name": "B3"},
                  "mark": {"type": "line", "color": "black", "strokeWidth": 1.1},
                  "encoding": {
                    "x": {"field": "t", "type": "quantitative", "scale": {"domain": [0, 320], "nice": false}, "axis": null},
                    "y": {"field": "v", "type": "quantitative", "scale": {"domain": [0, 2200], "nice": false, "zero": false}, "axis": {"title": "mg", "format": "d", "values": [0, 500, 1000, 1500, 2000], "titlePadding": 22}}
                  }
                },
                {
                  "data": {"values": [{"start": 258, "end": 320, "mid": 289, "label": "1 min"}]},
                  "layer": [
                    {"mark": {"type": "rule", "color": "black", "strokeWidth": 1.2}, "encoding": {"x": {"field": "start", "type": "quantitative"}, "x2": {"field": "end"}, "y": {"datum": 0}}},
                    {"mark": {"type": "tick", "orient": "vertical", "size": 9, "thickness": 1.2, "color": "black", "opacity": 1}, "encoding": {"x": {"field": "start", "type": "quantitative"}, "y": {"datum": 0}}},
                    {"mark": {"type": "tick", "orient": "vertical", "size": 9, "thickness": 1.2, "color": "black", "opacity": 1}, "encoding": {"x": {"field": "end", "type": "quantitative"}, "y": {"datum": 0}}},
                    {"mark": {"type": "text", "baseline": "top", "dy": 4, "fontSize": 20, "font": "Liberation Sans", "color": "black"}, "encoding": {"x": {"field": "mid", "type": "quantitative"}, "y": {"datum": 0}, "text": {"field": "label"}}}
                  ]
                }
              ]
            }
          ]
        }
      ]
    }
  ],
  "spacing": 37
}
